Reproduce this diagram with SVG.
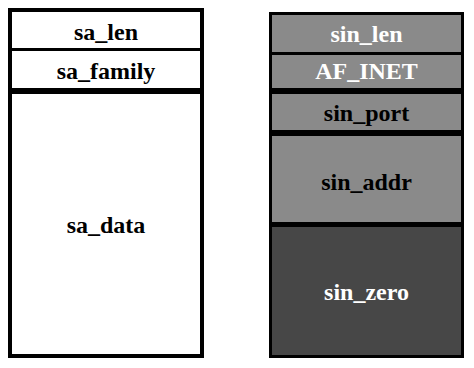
<svg xmlns="http://www.w3.org/2000/svg" width="474" height="368" viewBox="0 0 474 368">
<style>
.t{font-family:'Liberation Serif','Times New Roman',serif;font-weight:bold;font-size:24px;text-anchor:middle}
.frame{fill:#000}
.w{fill:#fff}
.g{fill:#8a8a8a}
.d{fill:#474747}
.tw{fill:#fff}
.tb{fill:#000}
</style>
<rect width="474" height="368" fill="#fff"/>
<g id="sockaddr">
<rect class="frame" x="8" y="8" width="196" height="350"/>
<g id="sa_len"><rect class="w" x="12" y="12" width="188" height="36"/><text class="t tb" x="106" y="40">sa_len</text></g>
<g id="sa_family"><rect class="w" x="12" y="51" width="188" height="37"/><text class="t tb" x="106" y="79">sa_family</text></g>
<g id="sa_data"><rect class="w" x="12" y="94" width="188" height="260"/><text class="t tb" x="106" y="233">sa_data</text></g>
</g>
<g id="sockaddr_in">
<rect class="frame" x="269" y="12" width="195" height="346"/>
<g id="sin_len"><rect class="g" x="272" y="15" width="189" height="37"/><text class="t tw" x="366.5" y="42">sin_len</text></g>
<g id="af_inet"><rect class="g" x="272" y="55" width="189" height="33"/><text class="t tw" x="366.5" y="79">AF_INET</text></g>
<g id="sin_port"><rect class="g" x="272" y="94" width="189" height="36"/><text class="t tb" x="366.5" y="121">sin_port</text></g>
<g id="sin_addr"><rect class="g" x="272" y="136" width="189" height="86"/><text class="t tb" x="366.5" y="190">sin_addr</text></g>
<g id="sin_zero"><rect class="d" x="272" y="227" width="189" height="128"/><text class="t tw" x="366.5" y="300">sin_zero</text></g>
</g>
<g id="connectors"/>
</svg>
